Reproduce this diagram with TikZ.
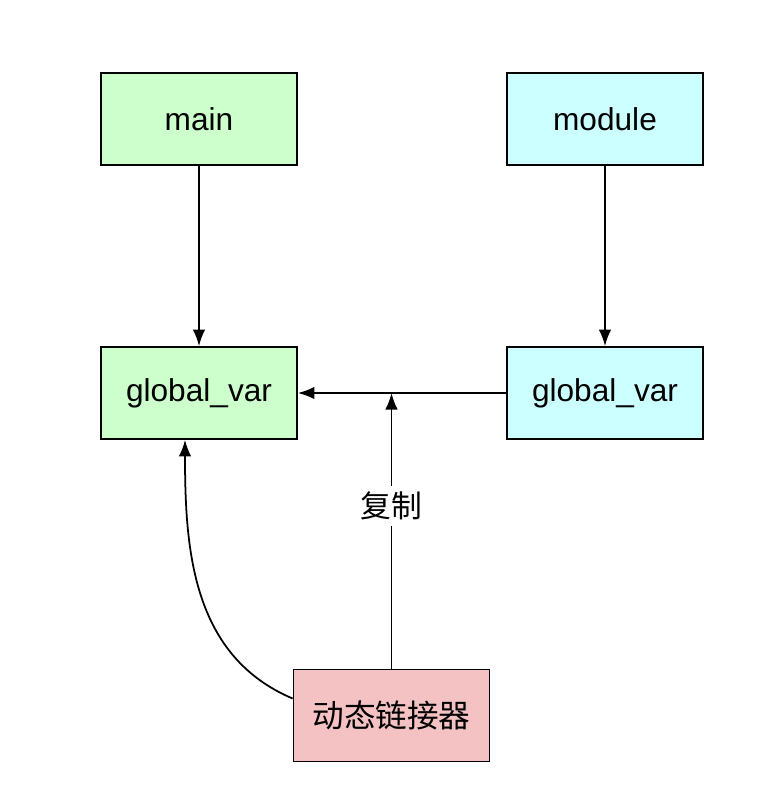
\documentclass[tikz,border=0pt]{standalone}
\usepackage{fontspec}
\setmainfont{Liberation Sans}
\newfontfamily\cjk{Noto Sans CJK SC}
\usetikzlibrary{arrows.meta}
\definecolor{mgreen}{HTML}{CCFFCC}
\definecolor{mcyan}{HTML}{CCFFFF}
\definecolor{mpink}{HTML}{F4C2C2}
\tikzset{
    box/.style={draw, line width=1pt, minimum width=3.92cm, minimum height=1.84cm, font=\fontsize{18}{21}\selectfont},
    arr/.style={line width=1pt, -{Latex[length=0.33cm, width=0.25cm]}}
}
\begin{document}
\begin{tikzpicture}
        \useasboundingbox (0,0) rectangle (15.4,-16.24);
        \node[box, fill=mgreen] (main) at (3.98, -2.38) {main};
        \node[box, fill=mcyan] (module) at (12.1, -2.38) {module};
        \node[box, fill=mgreen] (gl) at (3.98, -7.86) {global\_var};
        \node[box, fill=mcyan] (gr) at (12.1, -7.86) {global\_var};
        \node[box, fill=mpink] (linker) at (7.83, -14.31) {\cjk 动态链接器};
        \coordinate (copy) at (linker.north |- gl.east);
        \draw[arr] (main) -- (gl);
        \draw[arr] (module) -- (gr);
        \draw[arr] (gr) -- (gl);
        \draw[arr] (linker) -- node[pos=0.59, fill=white, font=\cjk\fontsize{17.5}{20}\selectfont] (lbl) {复制} (copy);
        \draw[arr] ([yshift=0.34cm]linker.west) to[out=157, in=-90] ([xshift=-0.28cm]gl.south);
    \end{tikzpicture}
\end{document}
